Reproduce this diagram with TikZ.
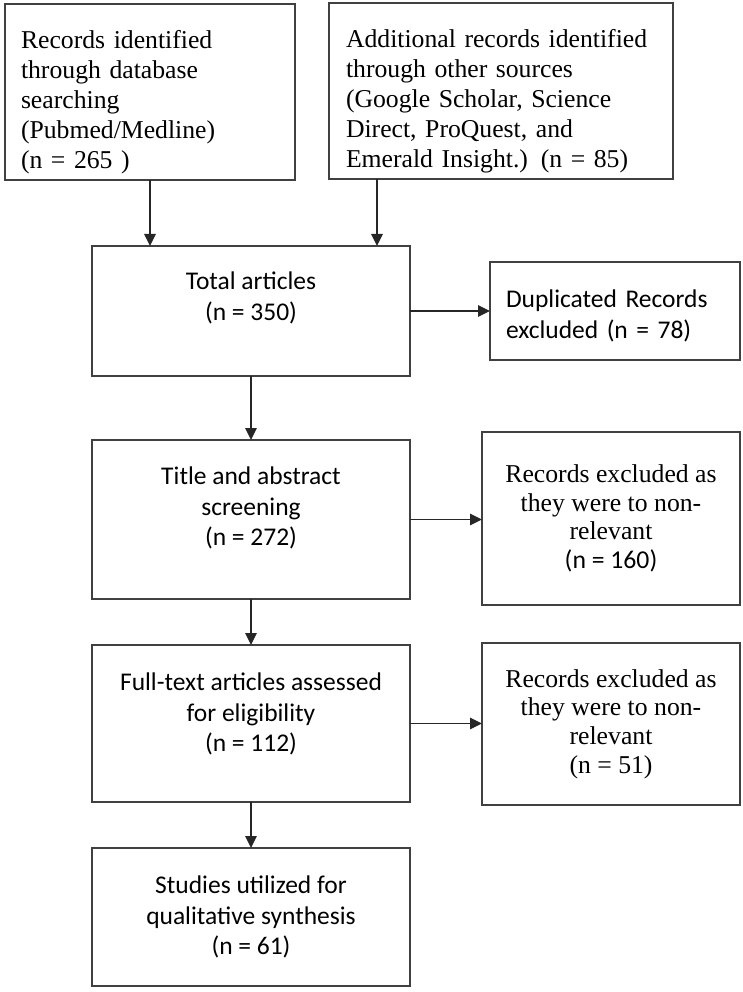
\documentclass[tikz,border=0pt]{standalone}
\usepackage{fontspec}
\setmainfont{Liberation Serif}
\newfontfamily\calibri{Carlito}
\usetikzlibrary{arrows.meta}
\def\up#1{\rule[-#1pt]{0pt}{0pt}}
\def\down#1{\rule{0pt}{#1pt}}
\tikzset{
	frame/.style={draw=black!75, line width=1.3pt, inner sep=0pt, outer sep=0pt},
	sansbox/.style={frame, font=\calibri\fontsize{25.5}{30.5}\selectfont, align=center},
	serifbox/.style={frame, font=\fontsize{25.7}{28.7}\selectfont},
	sourcebox/.style={frame, font=\fontsize{25.7}{30}\selectfont, align=left, minimum height=176pt},
	flow/.style={-{Triangle[length=12pt,width=11.5pt]}, line width=1.3pt, black!85},
}

\begin{document}
\begin{tikzpicture}[x=1pt, y=-1pt]
		%%%%% START %%%%%
		\useasboundingbox (0, 0) rectangle (742, 992);
		
		\node[sourcebox, minimum width=290pt, text width=258pt, inner xsep=16pt] (srcA) at (150, 92)
			{\down{38}Records identified\\through database\\searching\\(Pubmed/Medline)\\(n = 265 )};
		\node[sourcebox, minimum width=344pt, text width=310pt, inner xsep=17pt] (srcB) at (501, 91)
			{\down{38}Additional records identified\\through other sources\\(Google Scholar, Science\\Direct, ProQuest, and\\Emerald Insight.) (n = 85)};
		
		\node[sansbox, minimum width=318pt, minimum height=130pt] (total) at (251, 311) {Total articles\\(n = 350)\up{30}};
		\node[sansbox, minimum width=250pt, minimum height=98pt, text width=218pt, inner xsep=16pt, align=left] (dup) at (615, 311)
			{\down{28}Duplicated Records\\excluded (n = 78)};
		
		\node[sansbox, minimum width=318pt, minimum height=159pt] (screen) at (251, 519.5) {Title and abstract\\screening\\(n = 272)\up{26}};
		\node[serifbox, minimum width=258pt, minimum height=173pt, align=center] (exclA) at (611, 518.5)
			{Records excluded as\\they were to non-\\relevant\\{\calibri (n = 160)}};
		
		\node[sansbox, minimum width=318pt, minimum height=157pt] (full) at (251, 723.5) {Full-text articles assessed\\for eligibility\\(n = 112)\up{22}};
		\node[serifbox, minimum width=258pt, minimum height=162pt, align=center] (exclB) at (611, 724)
			{Records excluded as\\they were to non-\\relevant\\(n = 51)};
		
		\node[sansbox, minimum width=318pt, minimum height=138pt] (final) at (251, 917) {Studies utilized for\\qualitative synthesis\\(n = 61)};
		
		\draw[flow] (srcA.south) -- (srcA.south |- total.north);
		\draw[flow] ([xshift=-124pt]srcB.south) -- ([xshift=-124pt]srcB.south |- total.north);
		\draw[flow] (total.east) -- (total.east -| dup.west);
		\draw[flow] (total.south) -- (screen.north);
		\draw[flow] (screen.east) -- (screen.east -| exclA.west);
		\draw[flow] (screen.south) -- (full.north);
		\draw[flow] (full.east) -- (full.east -| exclB.west);
		\draw[flow] (full.south) -- (final.north);
		
		%%%%% END %%%%%
	\end{tikzpicture}
\end{document}
